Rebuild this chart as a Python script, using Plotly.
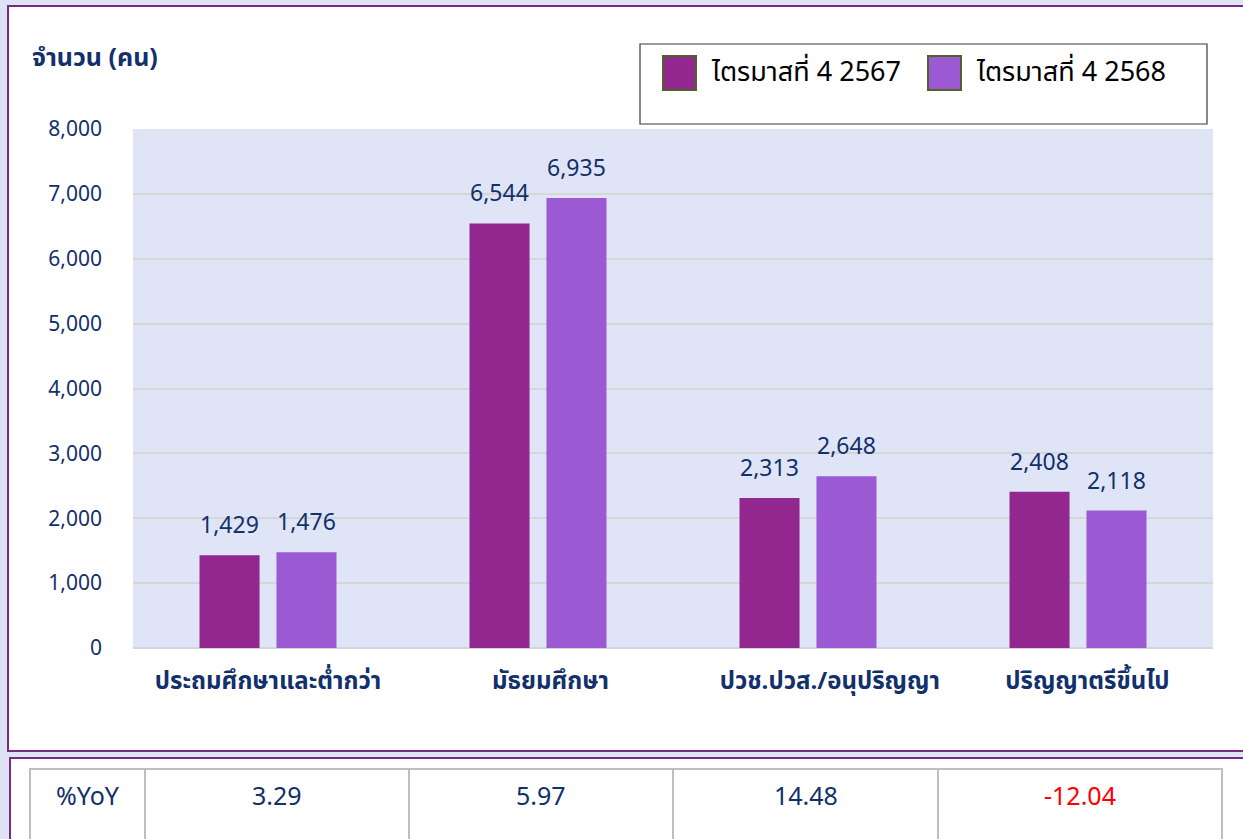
import plotly.graph_objects as go

# ---------------- data ----------------
categories = ["ประถมศึกษาและต่ำกว่า", "มัธยมศึกษา", "ปวช.ปวส./อนุปริญญา", "ปริญญาตรีขึ้นไป"]
series_names = ["ไตรมาสที่ 4 2567", "ไตรมาสที่ 4 2568"]
values_2567 = [1429, 6544, 2313, 2408]
values_2568 = [1476, 6935, 2648, 2118]
yoy_label = "%YoY"
yoy_values = [3.29, 5.97, 14.48, -12.04]
y_ticks = [0, 1000, 2000, 3000, 4000, 5000, 6000, 7000, 8000]

# ---------------- style ----------------
W, H = 1243, 839
PL, PR, PT, PB = 133, 1213, 129, 648          # plot area in pixels
NAVY = "#12306B"
COL = ["#92278F", "#9B59D3"]
FONT = "Tahoma, 'Noto Sans Thai', 'Noto Sans', 'DejaVu Sans', sans-serif"
BARGAP, GROUPGAP = 0.43, 0.22
label_pad = [0, 4, 7, 3]   # leading non-breaking spaces (label nudge as in original)

def px(x):
    return (x - PL) / (PR - PL)

def py(y):
    return (PB - y) / (PB - PT)

fig = go.Figure()
series_vals = [values_2567, values_2568]
for name, vals, c in zip(series_names, series_vals, COL):
    fig.add_trace(go.Bar(x=categories, y=vals, name=name, marker=dict(color=c, line=dict(width=0)),
                         showlegend=False, hoverinfo="x+y"))

shapes = []
# outer white frames
shapes.append(dict(type="rect", xref="paper", yref="paper", x0=px(8), x1=px(1262), y0=py(6), y1=py(751),
                   fillcolor="white", line=dict(color="#7B2A80", width=2), layer="below"))
shapes.append(dict(type="rect", xref="paper", yref="paper", x0=px(10), x1=px(1262), y0=py(758), y1=py(860),
                   fillcolor="white", line=dict(color="#7B2A80", width=2), layer="below"))
# plot background
shapes.append(dict(type="rect", xref="paper", yref="paper", x0=0, x1=1, y0=0, y1=1,
                   fillcolor="#DFE5F7", line=dict(width=0), layer="below"))
# legend box
shapes.append(dict(type="rect", xref="paper", yref="paper", x0=px(640), x1=px(1207), y0=py(44), y1=py(124),
                   fillcolor="white", line=dict(color="#3A3A3A", width=1.2), layer="above"))

annotations = []
# legend items
leg_sq_x = [663, 928]
for i, (name, c) in enumerate(zip(series_names, COL)):
    x0 = leg_sq_x[i]
    shapes.append(dict(type="rect", xref="paper", yref="paper", x0=px(x0), x1=px(x0 + 33), y0=py(56), y1=py(90),
                       fillcolor=c, line=dict(color="#4F6228", width=2), layer="above"))
    annotations.append(dict(xref="paper", yref="paper", x=px(x0 + 46), y=py(72), text=name, showarrow=False,
                            xanchor="left", yanchor="middle", font=dict(family=FONT, size=27, color="black")))

# y-axis title
annotations.append(dict(xref="paper", yref="paper", x=px(30), y=py(58), text="<b>จำนวน (คน)</b>", showarrow=False,
                        xanchor="left", yanchor="middle", font=dict(family=FONT, size=25, color=NAVY)))

# data labels above bars
cat_w = (PR - PL) / len(categories)
slot_w = cat_w * (1 - BARGAP) / 2
for s, vals in enumerate(series_vals):
    off = (s - 0.5) * slot_w
    for cat, v in zip(categories, vals):
        annotations.append(dict(x=cat, y=v, xref="x", yref="y", text=f"{v:,}", showarrow=False,
                                xanchor="center", yanchor="bottom", xshift=off, yshift=10,
                                font=dict(family=FONT, size=23, color=NAVY)))

# YoY table
col_edges = [30, 145, 409, 673, 938, 1222]
t_top, t_bot = 769, 870
shapes.append(dict(type="rect", xref="paper", yref="paper", x0=px(col_edges[0]), x1=px(col_edges[-1]),
                   y0=py(t_top), y1=py(t_bot), line=dict(color="#BFBFBF", width=2), layer="above"))
for e in col_edges[1:-1]:
    shapes.append(dict(type="line", xref="paper", yref="paper", x0=px(e), x1=px(e), y0=py(t_top), y1=py(t_bot),
                       line=dict(color="#BFBFBF", width=2), layer="above"))
cells = [yoy_label] + [f"{v:.2f}" for v in yoy_values]
for k, txt in enumerate(cells):
    cx = (col_edges[k] + col_edges[k + 1]) / 2
    color = NAVY
    if k > 0 and yoy_values[k - 1] < 0:
        color = "#FF0000"
    annotations.append(dict(xref="paper", yref="paper", x=px(cx), y=py(797), text=txt, showarrow=False,
                            xanchor="center", yanchor="middle", font=dict(family=FONT, size=25, color=color)))

fig.update_layout(
    width=W, height=H,
    margin=dict(l=PL, r=W - PR, t=PT, b=H - PB, pad=0),
    paper_bgcolor="#DDE2F4",
    plot_bgcolor="rgba(0,0,0,0)",
    barmode="group", bargap=BARGAP, bargroupgap=GROUPGAP,
    shapes=shapes, annotations=annotations,
    font=dict(family=FONT, color=NAVY),
    showlegend=False,
)
fig.update_xaxes(showgrid=False, showline=False, zeroline=False,
                 tickfont=dict(family=FONT, size=24, color=NAVY), ticklabelstandoff=16,
                 tickvals=categories,
                 ticktext=["\u00a0" * n + f"<b>{c}</b>" for c, n in zip(categories, label_pad)])
fig.update_yaxes(range=[0, 8000], tickvals=y_ticks, tickformat=",d", showgrid=True, gridcolor="#D6D6D6",
                 gridwidth=2, zeroline=True, zerolinecolor="#D6D6D6", zerolinewidth=2, showline=False,
                 tickfont=dict(family=FONT, size=21, color=NAVY), ticklabelstandoff=30)

fig.write_html("out.html", config={"displayModeBar": False},
               post_script="document.body.style.margin='0px';")
